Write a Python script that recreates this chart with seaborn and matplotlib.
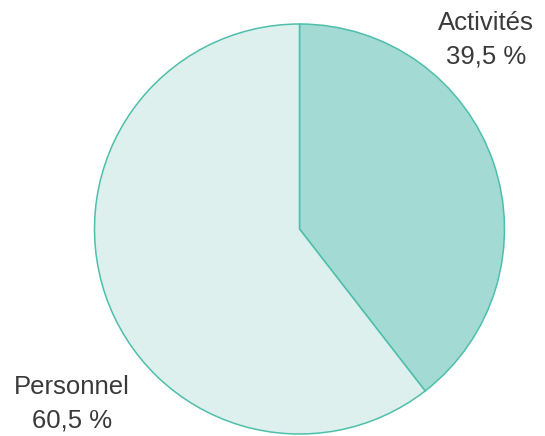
import matplotlib
matplotlib.use("Agg")
import matplotlib.pyplot as plt
import seaborn as sns

categories = ["Activités", "Personnel"]
shares = [39.5, 60.5]
value_labels = ["39,5 %", "60,5 %"]

sns.set_theme(style="white")
plt.rcParams["font.family"] = ["Liberation Sans", "DejaVu Sans"]

W, H = 545, 436
fig = plt.figure(figsize=(W / 100, H / 100), dpi=100)
ax = fig.add_axes([0, 0, 1, 1])

fills = ["#a3dad3", "#def0ee"]
ax.pie(shares, colors=fills, startangle=90, counterclock=False,
       center=(299.5, H - 229), radius=205, frame=True,
       wedgeprops=dict(edgecolor="#4dbfaa", linewidth=1.1))
ax.set_xlim(0, W)
ax.set_ylim(0, H)
ax.set_aspect("equal")
ax.axis("off")

text_kw = dict(ha="center", va="center", fontsize=18.5, color="#3a3a3a", linespacing=1.5)
ax.text(486, H - 40, f"{categories[0]}\n{value_labels[0]}", **text_kw)
ax.text(72, H - 404, f"{categories[1]}\n{value_labels[1]}", **text_kw)

fig.savefig("out.png", dpi=100, facecolor="white")
